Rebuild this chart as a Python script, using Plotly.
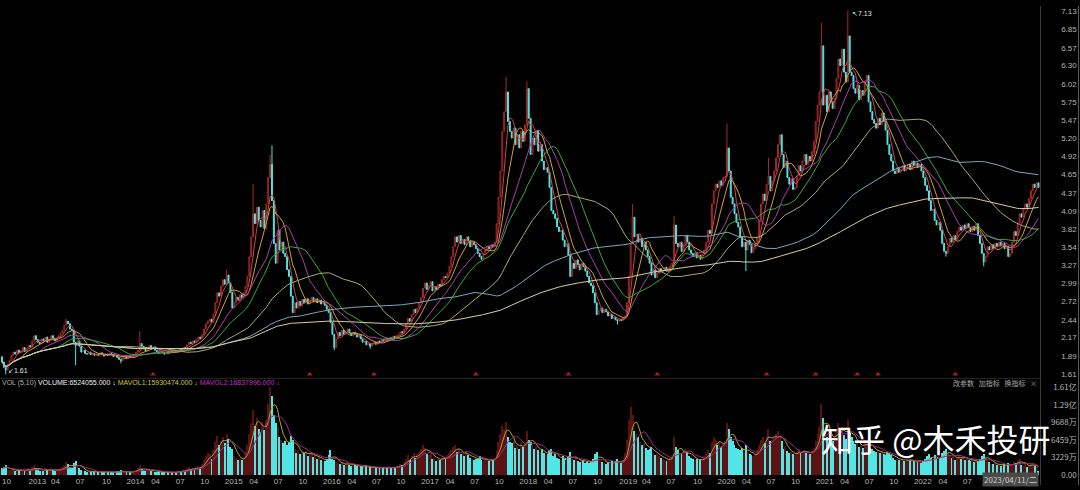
import pandas as pd
import plotly.graph_objects as go

START_WEEK = "2012-10-01"
first_open = 1.88

# weekly closes (one per week)
close = [
    1.80,1.72,1.68,1.76,1.82,1.90,1.95,1.92,1.98,1.94,
    1.97,2.02,1.96,2.00,2.05,2.03,2.12,2.20,2.14,2.10,
    2.08,2.15,2.12,2.18,2.10,2.14,2.20,2.16,2.12,2.17,
    2.20,2.24,2.28,2.36,2.42,2.38,2.30,2.28,2.10,2.05,
    2.12,2.04,1.95,1.98,1.93,1.92,1.95,1.91,1.93,1.90,
    1.92,1.90,1.94,1.91,1.89,1.92,1.90,1.93,1.91,1.88,
    1.90,1.87,1.84,1.82,1.86,1.88,1.85,1.89,1.87,1.90,
    1.92,1.95,1.98,2.08,2.04,2.00,1.97,2.02,2.05,2.00,
    2.03,1.98,1.95,1.93,1.96,1.94,1.92,1.95,1.93,1.96,
    1.94,1.97,1.95,1.98,2.00,1.98,2.02,2.00,2.06,2.10,
    2.08,2.12,2.10,2.15,2.18,2.16,2.22,2.30,2.38,2.42,
    2.45,2.40,2.52,2.70,2.85,2.80,2.95,3.05,2.98,3.12,
    3.00,2.86,2.62,2.70,2.78,2.74,2.82,2.78,2.85,2.95,
    3.10,3.40,3.70,4.05,3.90,4.15,3.95,3.85,4.10,3.82,
    4.20,4.60,4.80,4.25,3.60,3.30,3.80,3.50,3.62,3.45,
    3.40,3.20,3.10,2.80,2.55,2.70,2.62,2.72,2.65,2.75,
    2.70,2.76,2.68,2.74,2.78,2.72,2.76,2.70,2.74,2.68,
    2.70,2.66,2.60,2.55,2.40,2.22,2.02,2.15,2.25,2.20,
    2.28,2.22,2.26,2.30,2.24,2.20,2.25,2.22,2.18,2.21,
    2.15,2.10,2.12,2.06,2.08,2.04,2.08,2.10,2.07,2.12,
    2.10,2.14,2.12,2.16,2.13,2.17,2.15,2.19,2.16,2.20,
    2.22,2.26,2.24,2.30,2.38,2.46,2.42,2.52,2.60,2.55,
    2.62,2.70,2.78,2.92,3.00,2.90,2.96,3.02,2.88,2.94,
    2.90,2.98,2.95,3.05,3.10,3.08,3.15,3.25,3.40,3.55,
    3.70,3.62,3.72,3.60,3.66,3.58,3.70,3.64,3.55,3.62,
    3.58,3.52,3.45,3.40,3.36,3.45,3.50,3.55,3.52,3.58,
    3.55,3.62,3.90,4.30,4.70,5.30,5.60,5.90,5.45,5.30,
    5.20,5.35,5.10,5.25,5.05,5.30,5.15,5.40,5.95,5.50,
    4.95,5.20,5.10,5.32,5.00,5.10,4.85,4.72,4.75,4.68,
    4.45,4.10,4.05,3.98,3.85,3.78,3.80,3.65,3.55,3.60,
    3.42,3.10,3.30,3.22,3.35,3.28,3.20,3.30,3.25,3.18,
    3.10,3.00,2.96,2.85,2.70,2.52,2.58,2.62,2.55,2.60,
    2.56,2.50,2.52,2.46,2.48,2.44,2.42,2.45,2.43,2.48,
    2.50,2.70,3.10,3.60,4.00,3.70,3.74,3.62,3.68,3.55,
    3.62,3.50,3.40,3.30,3.12,3.20,3.08,3.15,3.22,3.18,
    3.20,3.24,3.18,3.22,3.26,3.30,3.88,3.60,3.55,3.62,
    3.48,3.56,3.72,3.62,3.50,3.45,3.40,3.46,3.38,3.42,
    3.36,3.44,3.50,3.62,3.80,3.75,4.20,4.40,4.50,4.45,
    4.55,4.48,4.60,4.62,5.05,4.70,4.30,4.20,4.05,3.92,
    3.85,3.70,3.55,3.62,3.50,3.65,3.58,3.46,3.52,3.60,
    3.70,3.95,4.20,4.35,4.25,4.50,4.62,4.40,4.55,4.70,
    4.90,5.10,5.25,4.95,4.75,4.85,4.60,4.50,4.58,4.42,
    4.45,4.62,4.78,4.70,4.85,4.95,4.80,4.92,4.85,5.00,
    5.15,5.45,5.70,5.90,6.60,5.70,5.85,5.60,5.90,5.75,
    5.65,5.80,6.10,6.40,6.30,6.55,6.20,6.05,6.75,6.20,
    6.15,5.95,5.88,6.00,5.78,5.92,5.85,6.05,6.15,5.75,
    5.60,5.48,5.42,5.35,5.50,5.40,5.58,5.45,5.32,5.10,
    4.95,4.85,4.70,4.66,4.75,4.68,4.72,4.78,4.70,4.74,
    4.80,4.72,4.85,4.78,4.82,4.75,4.80,4.70,4.60,4.48,
    4.40,4.25,4.10,4.12,3.95,3.88,3.92,3.80,3.60,3.48,
    3.45,3.55,3.68,3.62,3.72,3.66,3.78,3.85,3.80,3.88,
    3.82,3.90,3.84,3.78,3.86,3.80,3.90,3.72,3.60,3.45,
    3.32,3.40,3.55,3.50,3.58,3.52,3.60,3.55,3.62,3.56,
    3.60,3.52,3.55,3.40,3.45,3.62,3.78,3.72,3.90,4.05,
    4.00,4.12,4.20,4.15,4.28,4.40,4.50,4.45,4.52,4.45,
]

# weekly volume, millions of shares
volume_m = [
    12,15,18,10,8,9,11,7,9,8,
    10,8,7,9,12,8,14,18,11,9,
    8,10,7,12,9,8,13,10,8,9,
    10,12,14,18,24,20,15,12,22,26,
    16,12,9,8,7,6,8,6,7,5,
    6,5,7,6,5,6,5,7,6,5,
    6,7,8,9,6,5,6,5,6,7,
    8,9,12,18,11,8,7,9,10,7,
    8,6,5,6,5,6,5,6,5,6,
    5,6,5,7,8,6,9,8,12,14,
    11,13,10,14,16,13,20,28,35,40,
    38,30,45,60,72,55,62,70,58,75,
    66,52,48,35,32,28,30,27,33,42,
    55,75,95,120,90,105,85,78,98,82,
    100,130,161.47,145,110,95,88,70,65,58,
    62,55,60,72,65,48,40,45,38,42,
    40,44,35,38,42,33,36,30,34,28,
    26,25,30,36,45,30,28,25,22,20,
    22,18,20,24,19,17,20,18,16,15,
    16,14,15,18,13,16,14,15,13,14,
    12,15,13,14,12,16,13,15,14,17,
    16,20,18,24,30,36,28,34,40,32,
    38,42,48,55,50,38,36,42,30,32,
    26,30,28,32,34,30,36,40,45,52,
    55,42,48,38,40,35,42,36,32,30,
    28,30,32,34,28,26,30,28,25,30,
    28,32,45,60,75,90,85,97,70,60,
    58,62,50,55,48,60,52,58,80,65,
    60,55,48,52,45,42,48,40,36,38,
    45,48,35,38,32,30,28,34,30,28,
    35,42,30,28,32,26,24,28,25,22,
    24,22,26,30,38,42,30,26,24,22,
    20,24,21,25,22,26,30,24,22,28,
    40,65,100,124,110,80,75,70,60,55,
    58,50,45,48,52,40,36,38,35,32,
    30,28,26,30,32,36,70,52,45,40,
    38,42,48,40,35,32,30,28,30,26,
    28,30,34,38,45,40,60,70,65,55,
    60,52,58,62,95,85,70,62,55,50,
    48,45,50,40,55,42,38,36,34,38,
    45,55,65,70,58,72,85,62,64,68,
    75,80,70,62,48,52,44,40,42,38,
    36,42,48,40,44,46,40,42,38,44,
    50,62,75,88,130,105,80,70,82,66,
    62,70,82,95,78,86,74,66,100,78,
    70,62,56,60,52,56,50,60,64,54,
    50,48,44,42,45,40,44,38,36,42,
    40,36,32,28,30,27,28,30,26,25,
    28,26,30,25,26,23,25,22,26,30,
    34,38,32,30,36,31,28,32,40,44,
    48,40,36,31,34,28,32,36,30,34,
    28,32,27,25,28,23,27,25,30,34,
    38,32,27,23,21,20,22,18,20,17,
    18,20,16,22,18,20,24,22,28,30,
    19,17,20,15,17.8,20,22,16,15,6.524055,
]

# notable wick extremes (week index -> price)
wick_high = {34: 2.46, 73: 2.27, 119: 3.20, 133: 4.50, 142: 4.95, 143: 5.09,
             267: 6.13, 278: 6.06, 334: 4.20, 356: 4.02, 384: 5.42, 406: 4.90,
             434: 6.95, 448: 7.13}
wick_low = {2: 1.61, 39: 1.75, 63: 1.78, 176: 1.98, 195: 2.00, 326: 2.37,
            394: 3.18, 500: 3.40, 520: 3.25}

signal_weeks = [80, 163, 197, 251, 300, 347, 405, 431, 453, 464, 505]

price_ticks = [1.61, 1.89, 2.17, 2.44, 2.72, 2.99, 3.27, 3.54, 3.82, 4.09, 4.37,
               4.65, 4.92, 5.20, 5.47, 5.75, 6.02, 6.30, 6.57, 6.85, 7.13]
vol_ticks_m = [0, 32.29, 64.59, 96.88, 129.18, 161.47]
vol_tick_text = ["0.00", "3229万", "6459万", "9688万", "1.29亿", "1.61亿"]

ma_periods = [5, 10, 20, 30, 60, 120, 250]
ma_colors = ["#c84646", "#d0a038", "#a840a8", "#38a838", "#aca86c", "#78aabb", "#d6cca0"]

UP = "#a82828"
DOWN = "#50e6e6"
VOL_UP = "#5a1212"

# ---------- derived ----------
N = len(close)
idx = list(range(N))
dates = pd.date_range(START_WEEK, periods=N, freq="7D")
opens = [first_open] + close[:-1]
highs = [max(o, c, wick_high.get(i, 0)) for i, (o, c) in enumerate(zip(opens, close))]
lows = [min(o, c, wick_low.get(i, 99)) for i, (o, c) in enumerate(zip(opens, close))]
cs = pd.Series(close)
vol = [v * 1e6 for v in volume_m]
vs = pd.Series(vol)

W, H = 1080, 490
def py(px):  # pixel row -> paper fraction
    return (H - px) / H

fig = go.Figure()

for p, col in zip(ma_periods, ma_colors):
    fig.add_trace(go.Scatter(x=idx, y=cs.rolling(p, min_periods=1).mean(), mode="lines",
                             line=dict(color=col, width=1), hoverinfo="skip",
                             xaxis="x", yaxis="y"))

fig.add_trace(go.Candlestick(
    x=idx, open=opens, high=highs, low=lows, close=close,
    increasing=dict(line=dict(color=UP, width=1), fillcolor="#000000"),
    decreasing=dict(line=dict(color=DOWN, width=1), fillcolor=DOWN),
    whiskerwidth=0, xaxis="x", yaxis="y"))

fig.add_trace(go.Scatter(x=signal_weeks, y=[1.615] * len(signal_weeks), mode="markers",
                         marker=dict(symbol="triangle-up", size=5, color="#b01c1c"),
                         cliponaxis=False, xaxis="x", yaxis="y"))

vcolors = [VOL_UP if c >= o else DOWN for o, c in zip(opens, close)]
fig.add_trace(go.Bar(x=idx, y=vol, marker=dict(color=vcolors, line=dict(width=0)),
                     width=0.6, xaxis="x2", yaxis="y2"))
fig.add_trace(go.Scatter(x=idx, y=vs.rolling(5, min_periods=1).mean(), mode="lines",
                         line=dict(color="#a8a830", width=1), xaxis="x2", yaxis="y2"))
fig.add_trace(go.Scatter(x=idx, y=vs.rolling(10, min_periods=1).mean(), mode="lines",
                         line=dict(color="#a02a8a", width=1), xaxis="x2", yaxis="y2"))

# quarter ticks
tickvals, ticktext = [], []
for i, d in enumerate(dates):
    if (i == 0 or d.month != dates[i - 1].month) and d.month in (1, 4, 7, 10):
        if i < N - 28:
            tickvals.append(i)
            ticktext.append(str(d.year) if d.month == 1 else f"{d.month:02d}")

xr = [-1.06, N - 0.2]
xdom = [0, 1040 / W]
font_num = "Liberation Sans, Arial, sans-serif"
fig.update_layout(
    width=W, height=H, margin=dict(l=0, r=0, t=0, b=0),
    paper_bgcolor="#000000", plot_bgcolor="#000000", showlegend=False,
    xaxis=dict(domain=xdom, range=xr, anchor="y", showticklabels=False, showgrid=False,
               zeroline=False, showline=False, rangeslider=dict(visible=False)),
    yaxis=dict(domain=[py(377), py(5)], range=[1.61, 7.13], anchor="free", position=0.997,
               side="left", tickvals=price_ticks, ticktext=[f"{t:.2f}" for t in price_ticks],
               tickfont=dict(color="#b4b4b4", size=8, family=font_num), showgrid=False,
               zeroline=False, showline=False, ticks=""),
    xaxis2=dict(domain=xdom, range=xr, anchor="y2", matches="x", tickvals=tickvals,
                ticktext=ticktext, ticklabelposition="outside right",
                tickfont=dict(color="#b4b4b4", size=8, family=font_num), showgrid=False,
                zeroline=False, showline=False, ticks=""),
    yaxis2=dict(domain=[py(480), py(390)], range=[0, 161.47e6], anchor="free", position=0.997,
                side="left", tickvals=[v * 1e6 for v in vol_ticks_m], ticktext=vol_tick_text,
                tickfont=dict(color="#b4b4b4", size=8, family="Noto Sans CJK SC, sans-serif"),
                showgrid=False, zeroline=False, showline=False, ticks=""),
    bargap=0,
)

shapes = [
    dict(type="line", xref="paper", yref="paper", x0=1040.5 / W, x1=1040.5 / W, y0=0, y1=1,
         line=dict(color="#3a3a3a", width=1)),
    dict(type="line", xref="paper", yref="paper", x0=1078.5 / W, x1=1078.5 / W, y0=0, y1=1,
         line=dict(color="#5a5a5a", width=1)),
    dict(type="line", xref="paper", yref="paper", x0=0, x1=1040.5 / W, y0=py(381), y1=py(381),
         line=dict(color="#262626", width=1)),
]
fig.update_layout(shapes=shapes)

ann = []
ann.append(dict(x=448, y=7.13, xref="x", yref="y", text="↖7.13", showarrow=False,
                xanchor="left", yanchor="middle", xshift=2, yshift=-3,
                font=dict(color="#e0e0e0", size=7, family=font_num)))
ann.append(dict(x=2, y=1.61, xref="x", yref="y", text="↙1.61", showarrow=False,
                xanchor="left", yanchor="middle", yshift=4,
                font=dict(color="#e0e0e0", size=7, family=font_num)))
legend_txt = ("<span style='color:#b4b4b4'>VOL (5,10) </span>"
              "<span style='color:#f0f0f0'>VOLUME:6524055.000 ↓ </span>"
              "<span style='color:#c8c832'>MAVOL1:15930474.000 ↓ </span>"
              "<span style='color:#c030c0'>MAVOL2:16837996.000 ↓</span>")
ann.append(dict(x=0, y=py(385.5), xref="paper", yref="paper", text=legend_txt, showarrow=False,
                xanchor="left", yanchor="middle", font=dict(size=7, family=font_num)))
ann.append(dict(x=1039 / W, y=py(385.5), xref="paper", yref="paper",
                text="改参数   加指标   换指标   ×", showarrow=False, xanchor="right",
                yanchor="middle", font=dict(size=7, color="#a8a8a8",
                                            family="Noto Sans CJK SC, sans-serif")))
ann.append(dict(x=1039 / W, y=py(484), xref="paper", yref="paper",
                text="2023/04/11/二", showarrow=False, xanchor="right", yanchor="middle",
                bgcolor="#4a4a4a", borderpad=1,
                font=dict(size=8, color="#d0d0d0", family="Noto Sans CJK SC, sans-serif")))
ann.append(dict(x=935 / W, y=py(442), xref="paper", yref="paper",
                text="知乎 @木禾投研", showarrow=False, xanchor="center", yanchor="middle",
                font=dict(size=32, color="#ffffff", family="Noto Sans CJK SC, sans-serif")))
fig.update_layout(annotations=ann)

fig.write_html("out.html", config={"displayModeBar": False},
               post_script="document.body.style.margin='0';document.body.style.background='#000';")
